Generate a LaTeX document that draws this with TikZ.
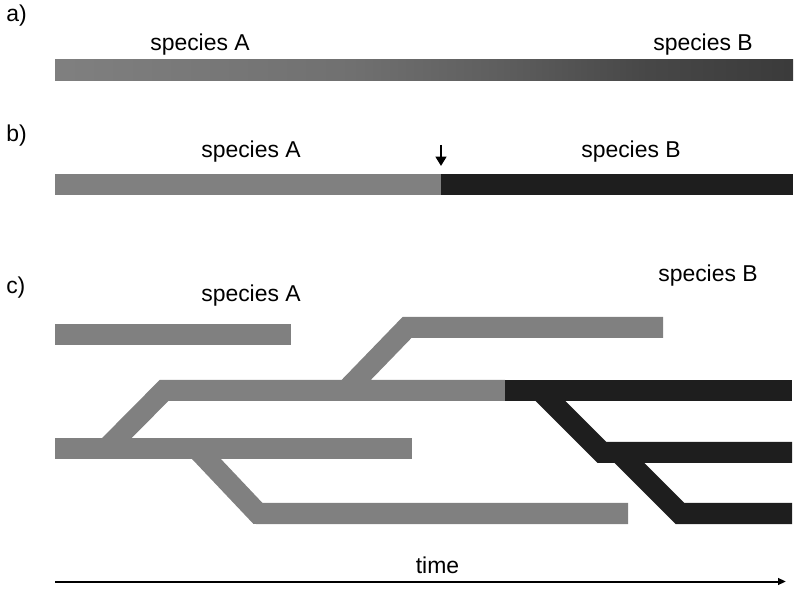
\documentclass[tikz,border=0pt]{standalone}
\usepackage{fontspec}
\setmainfont{Liberation Sans}
\usetikzlibrary{arrows.meta}
\definecolor{barA}{HTML}{808080}
\definecolor{barB}{HTML}{1E1E1E}
\definecolor{ga1}{gray}{0.50}
\definecolor{ga2}{gray}{0.44}
\definecolor{ga3}{gray}{0.37}
\definecolor{ga4}{gray}{0.28}
\definecolor{ga5}{gray}{0.23}
\pgfdeclarehorizontalshading{gradA}{100bp}{color(0bp)=(ga1); color(25bp)=(ga1); color(45bp)=(ga2); color(55bp)=(ga3); color(65bp)=(ga4); color(75bp)=(ga5); color(100bp)=(ga5)}
\begin{document}
\begin{tikzpicture}[x=0.75pt,y=-0.75pt,
  lbl/.style={font=\fontsize{17.2}{19}\selectfont, inner sep=0pt, anchor=base},
  panel/.style={font=\fontsize{17.2}{19}\selectfont, inner sep=0pt, anchor=base west},
  branchA/.style={draw=barA, line width=15.75pt, line cap=butt, line join=miter},
  branchB/.style={draw=barB, line width=15.75pt, line cap=butt, line join=miter},
  pointer/.style={draw=black, line width=1.6pt, -{Triangle[length=7pt,width=8pt]}},
  timeline/.style={draw=black, line width=1.5pt, -{Triangle[length=6pt,width=5pt]}}
]
\useasboundingbox (0,0) rectangle (800,591);

% panel labels
\node[panel] (pa) at (6,22) {a)};
\node[panel] (pb) at (6,142) {b)};
\node[panel] (pc) at (6,294) {c)};

% panel a
\shade[shading=gradA] (55,60) rectangle (793,81);
\node[lbl] (aA) at (200,51) {species A};
\node[lbl] (aB) at (703,51) {species B};

% panel b
\fill[barA] (55,174) rectangle (441,195);
\fill[barB] (441,174) rectangle (793,195);
\node[lbl] (bA) at (251,158) {species A};
\node[lbl] (bB) at (631,158) {species B};
\coordinate (splitTop) at (441,145);
\coordinate (splitTip) at (441,166);
\draw[pointer] (splitTop) -- (splitTip);

% panel c
\node[lbl] (cA) at (251,302) {species A};
\node[lbl] (cB) at (708,282) {species B};

\draw[branchA] (346,390.5) -- (407,327.5) -- (663,327.5);
\draw[branchA] (197,449) -- (258,513.5) -- (628,513.5);
\draw[branchA] (106,449) -- (164,390.5) -- (505,390.5);
\draw[branchA] (55,449) -- (412,449);
\draw[branchA] (55,335) -- (291,335);

\draw[branchB] (619,452.5) -- (680,513.5) -- (792,513.5);
\draw[branchB] (540,390.5) -- (602,452.5) -- (792,452.5);
\draw[branchB] (505,390.5) -- (792,390.5);

% time axis
\node[lbl] (time) at (437.5,573) {time};
\coordinate (timeStart) at (55,581.5);
\coordinate (timeEnd) at (786,581.5);
\draw[timeline] (timeStart) -- (timeEnd);
\end{tikzpicture}
\end{document}
